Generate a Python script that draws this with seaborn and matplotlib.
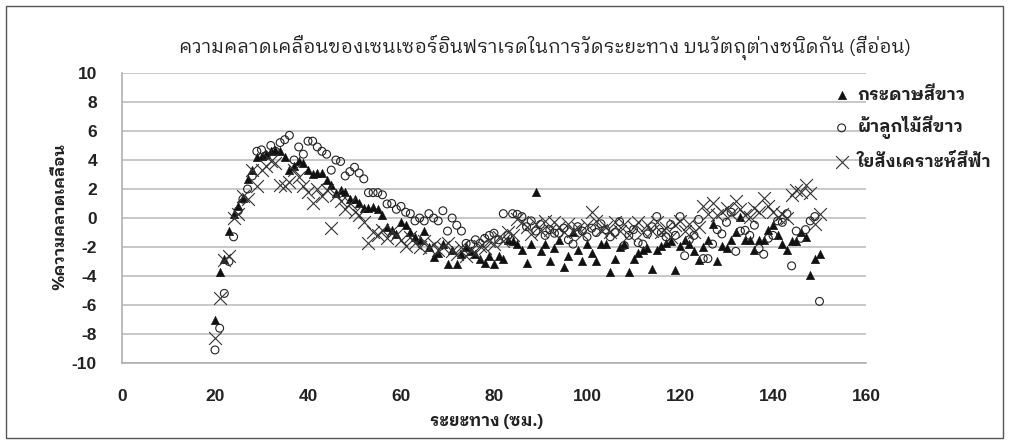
import numpy as np
import pandas as pd
import matplotlib
matplotlib.use("Agg")
import matplotlib.pyplot as plt
import seaborn as sns
from matplotlib import font_manager
from matplotlib.patches import Rectangle

# ---------------- data ----------------
distance = list(range(20, 151))

paper_white = [
    -7.0, -3.7, -2.8, -0.9, 0.3, 0.8, 1.4, 2.7, 3.3, 4.2,
    4.3, 4.4, 4.6, 4.7, 4.6, 4.2, 3.3, 3.6, 3.9, 3.8,
    3.3, 3.0, 3.1, 3.1, 2.6, 2.3, 1.7, 1.9, 1.8, 1.3,
    1.3, 1.0, 0.67, 0.67, 0.78, 0.6, 0.2, -0.6, -0.8, -1.1,
    -0.3, -0.5, -1.0, -1.3, -1.5, -0.9, -2.0, -2.7, -2.4, -1.8,
    -3.2, -2.2, -3.2, -2.5, -2.0, -2.3, -2.5, -2.8, -3.1, -2.6,
    -3.2, -2.6, -2.8, -1.5, -1.6, -1.8, -2.2, -3.1, -1.8, 1.8,
    -2.3, -1.8, -3.0, -2.1, -1.5, -3.4, -2.6, -1.0, -2.2, -3.0,
    -1.8, -2.4, -3.0, -1.8, -1.8, -3.7, -2.8, -2.0, -1.8, -3.7,
    -2.8, -2.4, -2.2, -2.1, -3.5, -2.2, -1.9, -1.7, -1.6, -3.6,
    -1.9, -1.5, -1.8, -2.3, -2.9, -2.0, -1.5, -0.4, -3.0, -1.9,
    -2.1, -1.5, -1.0, 0.05, -1.5, -1.5, -2.2, -1.5, -1.5, -0.8,
    -0.5, -1.2, -1.8, -2.2, -1.6, -1.6, -1.0, -1.3, -3.9, -2.8,
    -2.5,
]

lace_white = [
    -9.1, -7.6, -5.2, -3.0, -1.3, 0.5, 1.3, 2.0, 2.9, 4.6,
    4.7, 4.3, 5.0, 4.6, 5.2, 5.4, 5.7, 4.0, 4.9, 4.4,
    5.3, 5.3, 4.9, 4.6, 4.4, 3.3, 4.0, 3.9, 2.9, 3.2,
    3.5, 3.1, 2.7, 1.75, 1.75, 1.75, 1.6, 0.97, 1.0, 0.6,
    0.8, 0.4, 0.3, -0.2, 0.0, -0.2, 0.3, 0.0, -0.2, 0.5,
    -0.9, 0.0, -0.5, -0.9, -1.75, -1.8, -1.5, -1.75, -1.4, -1.2,
    -1.05, -1.5, 0.3, -1.2, 0.3, 0.25, 0.1, -0.6, -0.2, -0.9,
    -0.45, -1.2, -0.8, -1.05, -1.05, -0.7, -1.5, -1.8, -0.6, -0.9,
    -1.3, -0.7, -1.0, -0.4, -0.8, -1.3, -1.0, -0.25, -1.9, -1.2,
    -0.8, -1.7, -1.8, -1.1, -0.6, 0.1, -1.0, -1.3, -0.45, -1.2,
    0.1, -2.6, -1.5, -1.2, -0.1, -2.8, -2.8, -1.8, -0.8, -1.1,
    -0.3, 0.4, -2.3, -0.9, -0.85, -1.2, -0.5, -2.1, -2.5, -1.4,
    -1.2, -0.2, -0.3, 0.3, -3.3, -0.9, -1.4, -0.8, -0.2, 0.1,
    -5.75,
]

synthetic_blue = [
    -8.3, -5.5, -2.9, -2.6, 0.0, 0.3, 1.5, 1.3, 3.3, 2.2,
    3.3, 3.6, 3.9, 3.8, 2.3, 2.2, 2.5, 3.3, 2.8, 2.2,
    1.8, 1.0, 2.0, 1.5, 1.9, -0.7, 1.6, 1.2, 0.6, 1.0,
    0.4, 0.2, -0.3, -1.7, -1.0, -1.2, -0.8, -1.4, -0.9, -1.2,
    -1.5, -1.9, -1.3, -1.7, -2.0, -1.6, -2.1, -1.8, -2.2, -2.0,
    -1.7, -2.3, -2.5, -2.0, -2.6, -2.2, -2.4, -1.9, -2.1, -1.6,
    -1.8, -1.3, -1.6, -1.0, -1.2, -0.1, -0.3, -0.6, -1.1, -0.4,
    -0.9, -0.2, -0.8, -0.3, -0.6, -1.0, -0.4, -0.9, -0.7, -1.1,
    -0.5, 0.4, -0.2, -0.8, -0.6, -1.0, -0.3, -0.9, -0.4, -1.2,
    -0.6, -0.3, -1.0, -0.5, -0.9, -0.3, -1.0, -0.7, -1.3, -0.5,
    -0.2, -0.9, -0.4, -1.0, -0.6, 0.8, 0.3, 1.0, 0.2, 0.4,
    0.7, 0.3, 1.2, 0.6, 0.2, 0.1, 0.7, 0.4, 1.4, 0.8,
    0.4, 0.1, 0.3, 0.0, 1.6, 1.9, 1.8, 2.3, 1.7, -0.4,
    0.3,
]

series_labels = ["กระดาษสีขาว", "ผ้าลูกไม้สีขาว", "ใยสังเคราะห์สีฟ้า"]
title_text = "ความคลาดเคลื่อนของเซนเซอร์อินฟราเรดในการวัดระยะทาง บนวัตถุต่างชนิดกัน (สีอ่อน)"
xlabel_text = "ระยะทาง (ซม.)"
ylabel_text = "%ความคลาดเคลื่อน"
x_ticks = [0, 20, 40, 60, 80, 100, 120, 140, 160]
y_ticks = [-10, -8, -6, -4, -2, 0, 2, 4, 6, 8, 10]

# ---------------- fonts ----------------
sns.set_theme(style="white")

thai_families = []
try:
    from fontTools.ttLib import TTFont
    seen = set()
    for fe in font_manager.fontManager.ttflist:
        if fe.name in seen:
            continue
        try:
            f = TTFont(fe.fname, fontNumber=0, lazy=True)
            cmap = f.getBestCmap() or {}
            if 0x0E01 in cmap and 0x0E2A in cmap and 0x0E40 in cmap:
                thai_families.append(fe.name)
                seen.add(fe.name)
        except Exception:
            pass
except Exception:
    pass


def _rank(n):
    if "Looped" in n:
        return 0
    if "Thai" in n and "UI" not in n:
        return 1
    if "Thai" in n:
        return 2
    return 3


pref = sorted(thai_families, key=_rank)
family = pref[:1] + ["Liberation Sans", "DejaVu Sans"]
plt.rcParams["font.family"] = family
num_family = ["Liberation Sans", "DejaVu Sans"]

# ---------------- figure ----------------
fig = plt.figure(figsize=(10.09, 4.44), dpi=100)
ax = fig.add_axes([122 / 1009, 1 - 363 / 444, (866 - 122) / 1009, (363 - 73) / 444])

df = pd.DataFrame({
    "x": distance * 3,
    "y": paper_white + lace_white + synthetic_blue,
    "s": [series_labels[0]] * len(distance) + [series_labels[1]] * len(distance)
         + [series_labels[2]] * len(distance),
})

d0 = df[df.s == series_labels[0]]
d1 = df[df.s == series_labels[1]]
d2 = df[df.s == series_labels[2]]

sns.scatterplot(data=d0, x="x", y="y", ax=ax, marker="^", color="#111111",
                s=38, edgecolor="#111111", linewidth=0.3, label=series_labels[0], zorder=3)
sns.scatterplot(data=d1, x="x", y="y", ax=ax, marker="o", facecolor="none",
                edgecolor="#222222", s=32, linewidth=0.8, label=series_labels[1], zorder=3)
sns.scatterplot(data=d2, x="x", y="y", ax=ax, marker="x", color="#333333",
                s=85, linewidth=0.8, label=series_labels[2], zorder=3)

ax.set_xlim(0, 160)
ax.set_ylim(-10, 10)
ax.set_xticks(x_ticks)
ax.set_yticks(y_ticks)
ax.set_xticklabels([str(t) for t in x_ticks], fontsize=12.5, fontweight="bold",
                   family=num_family, color="#222222")
ax.set_yticklabels([str(t) for t in y_ticks], fontsize=12.5, fontweight="bold",
                   family=num_family, color="#222222")
ax.tick_params(axis="x", length=0, pad=19)
ax.tick_params(axis="y", length=0, pad=18)

ax.yaxis.grid(True, color="#c4c4c4", linewidth=1.3)
ax.xaxis.grid(False)
ax.set_axisbelow(True)
for side in ["top", "right"]:
    ax.spines[side].set_visible(False)
ax.spines["left"].set_color("#b0b0b0")
ax.spines["bottom"].set_color("#b0b0b0")
ax.spines["left"].set_linewidth(1.2)
ax.spines["bottom"].set_linewidth(1.2)

ax.set_xlabel("")
ax.set_ylabel("")
fig.text(487 / 1009, 1 - 421 / 444, xlabel_text, ha="center", va="center",
         fontsize=12, fontweight="bold", color="#222222", family=family)
fig.text(60 / 1009, 1 - 217 / 444, ylabel_text, ha="center", va="center",
         rotation=90, fontsize=11.5, fontweight="bold", color="#222222", family=family)
fig.text(545 / 1009, 1 - 47 / 444, title_text, ha="center", va="center",
         fontsize=13.7, color="#222222", family=family)

leg = ax.legend(loc="upper left", bbox_to_anchor=(826 / 1009, 1 - 79 / 444),
                bbox_transform=fig.transFigure, frameon=False,
                prop={"size": 12.5, "weight": "bold", "family": family},
                labelspacing=0.75, handletextpad=0.4, handlelength=1.0,
                borderaxespad=0)
for t in leg.get_texts():
    t.set_color("#222222")

fig.patches.append(Rectangle((6 / 1009, 6 / 444), 997 / 1009, 432 / 444,
                             transform=fig.transFigure, fill=False,
                             edgecolor="#555555", linewidth=1.0))

fig.savefig("out.png", dpi=100)
